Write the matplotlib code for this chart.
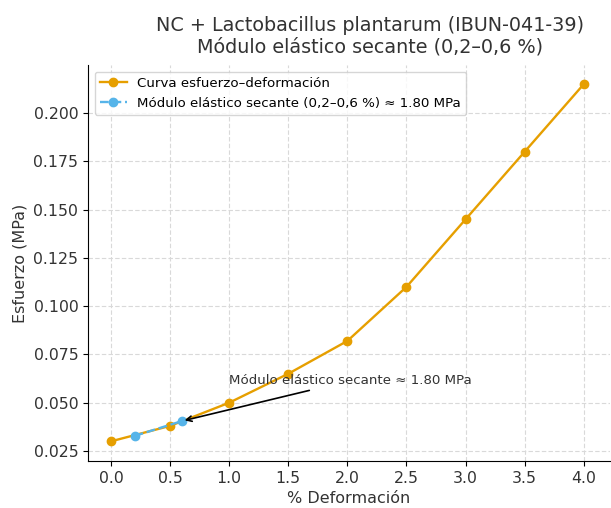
import matplotlib.pyplot as plt

# curva esfuerzo-deformacion
strain = [0.0, 0.5, 1.0, 1.5, 2.0, 2.5, 3.0, 3.5, 4.0]
stress = [0.030, 0.038, 0.050, 0.065, 0.082, 0.110, 0.145, 0.180, 0.215]

# puntos del modulo secante
sec_strain = [0.2, 0.6]
sec_stress = [0.0328, 0.0405]
modulo = 1.80

fig, ax = plt.subplots(figsize=(6.11, 5.08), dpi=100)
fig.subplots_adjust(left=0.144, right=0.998, bottom=0.0925, top=0.872)

ax.plot(strain, stress, '-o', color='#E69F00', lw=1.7, ms=6,
        label='Curva esfuerzo–deformación')
ax.plot(sec_strain, sec_stress, '--o', color='#56B4E9', lw=1.7, ms=6,
        label=f'Módulo elástico secante (0,2–0,6 %) ≈ {modulo:.2f} MPa')

ax.annotate(f'Módulo elástico secante ≈ {modulo:.2f} MPa',
            xy=(sec_strain[1], sec_stress[1]), xytext=(1.0, 0.0597),
            fontsize=9.6, color='#333333',
            arrowprops=dict(arrowstyle='->', color='black', lw=1.2))

ax.set_xlim(-0.195, 4.22)
ax.set_ylim(0.0198, 0.2249)
ax.set_xticks([0, 0.5, 1.0, 1.5, 2.0, 2.5, 3.0, 3.5, 4.0])
ax.set_yticks([0.025, 0.050, 0.075, 0.100, 0.125, 0.150, 0.175, 0.200])

ax.set_title('NC + Lactobacillus plantarum (IBUN-041-39)\nMódulo elástico secante (0,2–0,6 %)',
             fontsize=13.8, color='#333333', x=0.54, pad=9)
ax.set_xlabel('% Deformación', fontsize=11.5, color='#333333')
ax.set_ylabel('Esfuerzo (MPa)', fontsize=11.5, color='#333333')
ax.tick_params(labelsize=11.3, labelcolor='#333333')
ax.grid(True, ls=(0, (4, 2)), color='#d9d9d9', lw=0.8)
ax.spines['top'].set_visible(False)
ax.spines['right'].set_visible(False)

ax.legend(loc='upper left', fontsize=9.6)
plt.savefig('out.png', dpi=100)
